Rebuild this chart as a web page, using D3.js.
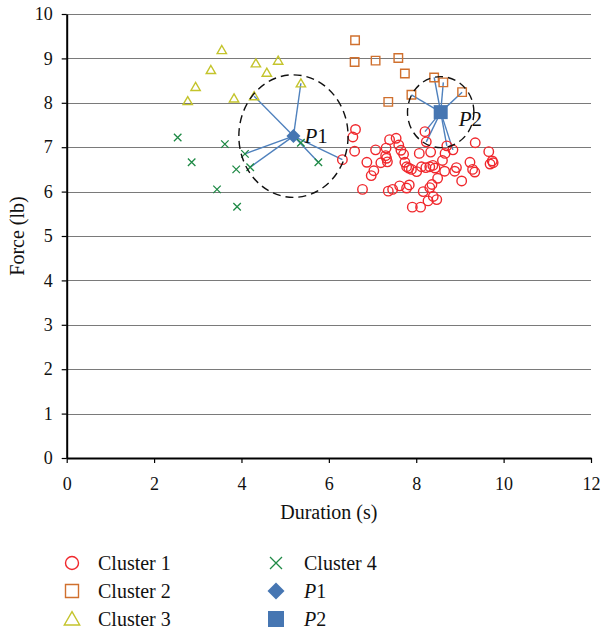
<!DOCTYPE html>
<html>
<head>
<meta charset="utf-8">
<script src="https://cdn.jsdelivr.net/npm/d3@7"></script>
<style>
  body { margin: 0; background: #fff; }
  svg text { font-family: "Liberation Serif", "DejaVu Serif", serif; fill: #111; }
</style>
</head>
<body>
<div id="chart"></div>
<script>
// cluster 1 (red circles), [duration, force]
var cluster1 = [
  [6.61, 7.40], [6.55, 7.23], [6.59, 6.91], [6.31, 6.72], [6.87, 6.66], [7.07, 6.94],
  [7.31, 6.98], [7.39, 7.17], [7.54, 7.20], [7.60, 7.05], [7.65, 6.93], [7.71, 6.84],
  [7.74, 6.66], [7.78, 6.56], [7.89, 6.50], [8.01, 6.45], [8.07, 6.86], [7.30, 6.81],
  [7.32, 6.75], [7.34, 6.67], [7.19, 6.65], [7.03, 6.47], [6.97, 6.36], [6.77, 6.05],
  [7.36, 6.01], [7.46, 6.05], [7.62, 6.13], [7.78, 6.08], [7.84, 6.15], [7.91, 5.65],
  [8.10, 5.65], [8.20, 7.35], [8.23, 7.12], [8.33, 6.89], [8.12, 6.56], [8.22, 6.54],
  [8.31, 6.56], [8.43, 6.53], [8.49, 6.30], [8.36, 6.16], [8.31, 6.09], [8.16, 6.00],
  [8.39, 5.89], [8.27, 5.79], [8.47, 5.82], [8.60, 6.70], [8.65, 6.46], [8.66, 6.86],
  [8.70, 7.03], [8.84, 6.94], [8.88, 6.46], [8.92, 6.54], [9.04, 6.24], [9.23, 6.66],
  [9.35, 7.10], [9.29, 6.50], [9.34, 6.44], [9.66, 6.90], [9.69, 6.62], [9.74, 6.69],
  [9.76, 6.65], [7.83, 6.53], [8.38, 6.59]
];
var cluster2 = [
  [6.60, 9.41], [6.59, 8.92], [7.07, 8.95], [7.59, 9.01], [7.74, 8.66],
  [7.36, 8.02], [8.41, 8.57], [8.62, 8.46], [9.05, 8.24], [7.89, 8.18]
];
var cluster3 = [
  [3.55, 9.19], [3.30, 8.74], [2.95, 8.36], [2.77, 8.04], [3.83, 8.10],
  [4.33, 8.89], [4.84, 8.95], [4.58, 8.68], [4.29, 8.15], [5.36, 8.44]
];
var cluster4 = [
  [2.54, 7.22], [3.62, 7.07], [2.86, 6.66], [4.08, 6.85], [3.88, 6.50],
  [4.20, 6.55], [5.36, 7.10], [5.76, 6.66], [3.44, 6.05], [3.90, 5.66]
];

var p1 = [5.19, 7.25];
var p2 = [8.56, 7.79];
// dashed neighbourhood radii [dx, dy] in data units
var p1Radius = [1.25, 1.38];
var p2Radius = [0.76, 0.80];
// members joined to each centre: [cluster, index]
var p1Links = [["c3", 8], ["c3", 9], ["c4", 3], ["c4", 5], ["c4", 7], ["c1", 3]];
var p2Links = [["c2", 9], ["c2", 6], ["c2", 7], ["c2", 8], ["c1", 31], ["c1", 32], ["c1", 48], ["c1", 49]];

var xTicks = [0, 2, 4, 6, 8, 10, 12];
var yTicks = [0, 1, 2, 3, 4, 5, 6, 7, 8, 9, 10];

var width = 602, height = 630;
var svg = d3.select("#chart").append("svg")
    .attr("width", width)
    .attr("height", height);

var x = d3.scaleLinear().domain([0, 12]).range([66.7, 591]);
var y = d3.scaleLinear().domain([0, 10]).range([458, 14]);

var colors = { c1: "#f0282d", c2: "#d0702e", c3: "#c4c42c", c4: "#1f8a46", p: "#4676b2" };
var clusters = { c1: cluster1, c2: cluster2, c3: cluster3, c4: cluster4 };

// grid
svg.append("g")
    .selectAll("line")
    .data(yTicks.slice(1))
    .enter().append("line")
    .attr("x1", x(0))
    .attr("x2", x(12))
    .attr("y1", function (d) { return Math.round(y(d)) + 0.5; })
    .attr("y2", function (d) { return Math.round(y(d)) + 0.5; })
    .attr("stroke", "#7a7a7a")
    .attr("stroke-width", 1);

// axes
var yAxis = svg.append("g")
    .attr("transform", "translate(" + x(0) + ",0)")
    .call(d3.axisLeft(y).tickValues(yTicks).tickSize(5).tickSizeOuter(0).tickPadding(9));
var xAxis = svg.append("g")
    .attr("transform", "translate(0," + y(0) + ")")
    .call(d3.axisBottom(x).tickValues(xTicks).tickSize(5).tickSizeOuter(0).tickPadding(14));

[xAxis, yAxis].forEach(function (a) {
    a.select(".domain").attr("stroke", "#000").attr("stroke-width", 2);
    a.selectAll(".tick line").attr("stroke", "#000").attr("stroke-width", 1.2);
    a.selectAll("text")
        .attr("font-family", "Liberation Serif, DejaVu Serif, serif")
        .attr("font-size", 18)
        .attr("fill", "#111");
});

svg.append("text")
    .attr("x", (x(0) + x(12)) / 2)
    .attr("y", 519)
    .attr("text-anchor", "middle")
    .attr("font-size", 20)
    .text("Duration (s)");

svg.append("text")
    .attr("transform", "translate(24," + (y(0) + y(10)) / 2 + ") rotate(-90)")
    .attr("text-anchor", "middle")
    .attr("font-size", 20)
    .text("Force (lb)");

// marker paths, centred on 0,0
function markerPath(kind, s) {
    var h = s / 2;
    if (kind === "c1") return d3.symbol().type(d3.symbolCircle).size(Math.PI * h * h)();
    if (kind === "c2" || kind === "p2") return "M" + (-h) + "," + (-h) + "H" + h + "V" + h + "H" + (-h) + "Z";
    if (kind === "c3") return "M0," + (-h * 1.05) + "L" + (h * 1.1) + "," + (h * 0.85) + "L" + (-h * 1.1) + "," + (h * 0.85) + "Z";
    if (kind === "c4") return "M" + (-h) + "," + (-h) + "L" + h + "," + h + "M" + h + "," + (-h) + "L" + (-h) + "," + h;
    if (kind === "p1") return "M0," + (-h) + "L" + h + ",0L0," + h + "L" + (-h) + ",0Z";
}

function drawMarker(g, kind, s) {
    var filled = kind === "p1" || kind === "p2";
    g.append("path")
        .attr("d", markerPath(kind, s))
        .attr("fill", filled ? colors.p : "none")
        .attr("stroke", filled ? "none" : colors[kind])
        .attr("stroke-width", kind === "c4" ? 1.3 : 1.4);
}

// neighbourhood links
var links = svg.append("g");
function drawLinks(p, list) {
    links.selectAll(null)
        .data(list)
        .enter().append("line")
        .attr("x1", x(p[0]))
        .attr("y1", y(p[1]))
        .attr("x2", function (d) { return x(clusters[d[0]][d[1]][0]); })
        .attr("y2", function (d) { return y(clusters[d[0]][d[1]][1]); })
        .attr("stroke", "#4f81bd")
        .attr("stroke-width", 1.4);
}
drawLinks(p1, p1Links);
drawLinks(p2, p2Links);

// cluster points
var sizes = { c1: 9.5, c2: 8.5, c3: 8.5, c4: 7.5 };
["c3", "c4", "c2", "c1"].forEach(function (k) {
    svg.append("g")
        .selectAll("g")
        .data(clusters[k])
        .enter().append("g")
        .attr("transform", function (d) { return "translate(" + x(d[0]) + "," + y(d[1]) + ")"; })
        .each(function () { drawMarker(d3.select(this), k, sizes[k]); });
});

// dashed neighbourhoods
[[p1, p1Radius], [p2, p2Radius]].forEach(function (c) {
    svg.append("ellipse")
        .attr("cx", x(c[0][0]))
        .attr("cy", y(c[0][1]))
        .attr("rx", x(c[1][0]) - x(0))
        .attr("ry", y(0) - y(c[1][1]))
        .attr("fill", "none")
        .attr("stroke", "#111")
        .attr("stroke-width", 1.4)
        .attr("stroke-dasharray", "8,5");
});

// centres
drawMarker(svg.append("g").attr("transform", "translate(" + x(p1[0]) + "," + y(p1[1]) + ")"), "p1", 14);
drawMarker(svg.append("g").attr("transform", "translate(" + x(p2[0]) + "," + y(p2[1]) + ")"), "p2", 14);

function pLabel(px, py, num) {
    var t = svg.append("text").attr("x", px).attr("y", py).attr("font-size", 21);
    t.append("tspan").attr("font-style", "italic").text("P");
    t.append("tspan").text(num);
}
pLabel(x(p1[0]) + 11, y(p1[1]) + 7, "1");
pLabel(x(p2[0]) + 18, y(p2[1]) + 14, "2");

// legend
var legendItems = [
    { key: "c1", label: "Cluster 1" }, { key: "c2", label: "Cluster 2" }, { key: "c3", label: "Cluster 3" },
    { key: "c4", label: "Cluster 4" }, { key: "p1", label: "1", italic: true }, { key: "p2", label: "2", italic: true }
];
var legendSizes = { c1: 13, c2: 13, c3: 14, c4: 12, p1: 17, p2: 16 };
var legend = svg.append("g")
    .selectAll("g")
    .data(legendItems)
    .enter().append("g")
    .attr("transform", function (d, i) {
        return "translate(" + (i < 3 ? 72 : 276) + "," + (563 + (i % 3) * 28) + ")";
    });
legend.each(function (d) { drawMarker(d3.select(this), d.key, legendSizes[d.key]); });
legend.append("text")
    .attr("x", function (d, i) { return i < 3 ? 26 : 28; })
    .attr("y", 7)
    .attr("font-size", 20)
    .each(function (d) {
        var t = d3.select(this);
        if (d.italic) {
            t.append("tspan").attr("font-style", "italic").text("P");
            t.append("tspan").text(d.label);
        } else {
            t.text(d.label);
        }
    });
</script>
</body>
</html>
